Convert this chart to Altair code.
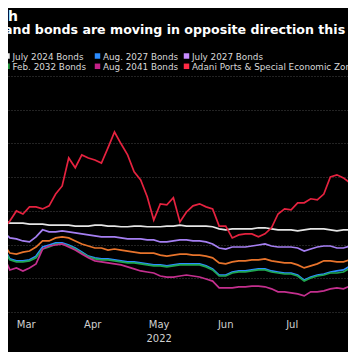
import altair as alt
import pandas as pd

# ---- data (index values) ----
dates = pd.date_range("2022-03-03", periods=56, freq="3D").strftime("%Y-%m-%dT00:00:00").tolist()

july_2024 = [98.5, 97.3, 96.4, 96.4, 96.4, 96.1, 96.1, 96.1, 95.8, 95.8,
             95.8, 95.8, 95.5, 95.5, 95.5, 95.8, 95.8, 95.5, 95.5, 95.3,
             95.3, 95.5, 95.5, 95.3, 95.3, 95.3, 95.5, 95.5, 95.8, 95.5,
             95.5, 95.5, 95.5, 95.3, 94.7, 94.4, 94.7, 94.7, 94.7, 94.7,
             95.0, 95.0, 94.7, 94.4, 94.4, 94.4, 94.1, 94.4, 94.7, 94.7,
             94.7, 94.4, 94.1, 94.4, 94.4, 94.7]
aug_2027 = [92.9, 89.3, 85.8, 85.2, 85.2, 85.5, 86.6, 89.3, 89.9, 90.5,
            90.5, 89.9, 89.0, 87.8, 86.6, 86.1, 85.8, 85.8, 85.5, 85.2,
            84.9, 84.9, 84.6, 84.3, 84.0, 84.0, 83.7, 84.0, 84.3, 84.3,
            84.3, 84.3, 83.7, 82.8, 81.0, 81.0, 81.9, 82.2, 82.2, 82.5,
            82.8, 82.8, 82.2, 81.9, 81.6, 81.6, 81.0, 79.5, 80.4, 81.0,
            81.3, 81.9, 82.2, 82.5, 83.7, 85.2]
july_2027 = [96.1, 93.8, 92.0, 91.7, 91.1, 90.8, 92.3, 94.4, 93.8, 93.8,
             94.1, 93.8, 93.5, 93.2, 92.9, 92.6, 92.3, 92.3, 92.3, 92.0,
             91.7, 91.7, 91.7, 91.4, 91.4, 90.8, 90.8, 91.1, 91.4, 91.4,
             91.1, 91.1, 90.8, 90.2, 89.0, 88.7, 89.3, 89.3, 89.3, 89.6,
             89.9, 90.2, 89.6, 89.3, 89.3, 89.3, 89.0, 88.1, 88.7, 89.3,
             89.6, 89.6, 89.0, 89.0, 89.6, 90.5]
july_2029 = [93.2, 90.2, 87.5, 87.2, 87.8, 88.1, 89.3, 91.1, 91.1, 92.0,
             92.3, 92.0, 91.1, 90.2, 89.6, 89.0, 89.0, 88.4, 88.7, 88.4,
             88.1, 87.8, 87.5, 87.5, 87.5, 86.9, 86.6, 86.9, 87.2, 87.2,
             86.9, 86.9, 86.6, 86.1, 84.6, 84.3, 84.9, 85.2, 85.2, 85.5,
             85.5, 85.8, 85.2, 84.9, 84.6, 84.6, 84.0, 83.1, 83.7, 84.3,
             85.2, 85.2, 84.9, 84.9, 85.5, 87.2]
feb_2032 = [92.6, 89.0, 85.5, 84.9, 84.9, 85.2, 86.1, 88.7, 89.3, 90.2,
            90.2, 89.6, 88.7, 87.5, 86.4, 85.8, 85.5, 85.5, 85.2, 84.9,
            84.6, 84.6, 84.3, 84.0, 83.7, 83.7, 83.4, 83.7, 84.0, 84.0,
            84.0, 84.0, 83.4, 82.5, 80.7, 80.7, 81.6, 81.9, 81.9, 82.2,
            82.5, 82.5, 81.9, 81.6, 81.3, 81.3, 80.7, 79.2, 80.1, 80.7,
            81.0, 81.6, 81.6, 81.9, 83.1, 84.6]
aug_2041 = [93.2, 86.9, 82.5, 83.1, 82.2, 83.1, 84.3, 88.7, 89.6, 89.9,
            90.2, 89.3, 88.4, 87.2, 86.1, 85.2, 84.9, 84.6, 84.3, 84.0,
            83.4, 82.8, 82.2, 81.9, 81.6, 80.7, 80.4, 80.4, 80.7, 81.0,
            80.7, 80.4, 79.8, 79.2, 77.2, 77.2, 77.2, 77.5, 77.5, 77.7,
            77.7, 77.5, 76.9, 76.0, 76.0, 75.7, 75.4, 74.8, 76.0, 76.0,
            76.3, 76.9, 77.2, 76.9, 77.7, 79.5]
adani = [96.7, 94.7, 97.0, 100.0, 99.1, 101.2, 101.2, 100.6, 101.5, 105.0,
         107.4, 115.7, 112.8, 116.6, 115.7, 115.1, 114.2, 118.7, 123.4, 119.9,
         116.6, 111.6, 109.2, 104.2, 97.3, 102.1, 101.8, 103.9, 96.7, 99.7,
         101.5, 102.1, 101.2, 100.6, 95.5, 95.5, 92.0, 92.9, 93.2, 93.2,
         92.3, 93.2, 95.0, 99.1, 100.6, 100.3, 102.4, 102.4, 103.6, 103.3,
         105.0, 110.1, 110.7, 109.8, 108.3, 108.0]

names = ["July 2024 Bonds", "Aug. 2027 Bonds", "July 2027 Bonds", "July 2029 Bonds",
         "Feb. 2032 Bonds", "Aug. 2041 Bonds", "Adani Ports & Special Economic Zone"]
colors = ["#e6e6e6", "#2b8cff", "#a57ff2", "#e8742c", "#1fa650", "#c42f8e", "#e5223f"]
legend_colors = ["#f0f0f0", "#2b8cff", "#c88cff", "#e8742c", "#1f9a3a", "#c42088", "#ff2a44"]
# legend entries visible in the cropped picture (the 4th column lies beyond its right edge)
legend_visible = ["July 2024 Bonds", "Aug. 2027 Bonds", "July 2027 Bonds",
                  "Feb. 2032 Bonds", "Aug. 2041 Bonds", "Adani Ports & Special Economic Zone"]

month_labels = ["Mar", "Apr", "May", "Jun", "Jul", "Aug"]
month_mid = ["2022-03-16T12:00:00", "2022-04-16T00:00:00", "2022-05-16T12:00:00",
             "2022-06-16T00:00:00", "2022-07-16T12:00:00", "2022-08-16T12:00:00"]
year_label = ["2022"]
year_pos = ["2022-05-16T12:00:00"]

title_text = "h"
subtitle_text = "and bonds are moving in opposite direction this year"

# ---- build table ----
draw_order = [("July 2029 Bonds", july_2029), ("July 2027 Bonds", july_2027),
              ("July 2024 Bonds", july_2024), ("Aug. 2027 Bonds", aug_2027),
              ("Feb. 2032 Bonds", feb_2032), ("Aug. 2041 Bonds", aug_2041),
              ("Adani Ports & Special Economic Zone", adani)]
rows = []
for name, vals in draw_order:
    for d, v in zip(dates, vals):
        rows.append({"date": d, "value": v, "series": name})
df = pd.DataFrame(rows)

W, H = 340, 241
GRID = "#474747"
x_scale = alt.Scale(domain=[alt.DateTime(year=2022, month=3, date=8, hours=3, minutes=36),
                            alt.DateTime(year=2022, month=8, date=11, hours=2, minutes=10)])
month_starts = [alt.DateTime(year=2022, month=m, date=1) for m in range(4, 9)]

lines = alt.Chart(df).mark_line(clip=True, strokeWidth=1.7).encode(
    x=alt.X("date:T", scale=x_scale,
            axis=alt.Axis(values=month_starts, labels=False, title=None, grid=True,
                          gridDash=[1, 2], gridColor=GRID, domainColor="#777777",
                          tickColor="#777777", tickSize=4, domainWidth=1)),
    y=alt.Y("value:Q", scale=alt.Scale(domain=[68.55, 140], nice=False, zero=False),
            axis=alt.Axis(orient="right", values=list(range(70, 150, 10)), labels=False,
                          ticks=False, domain=False, title=None, grid=True,
                          gridDash=[1, 2], gridColor=GRID)),
    color=alt.Color("series:N", scale=alt.Scale(domain=names, range=colors), legend=None),
)

months_df = pd.DataFrame({"date": month_mid, "label": month_labels})
month_text = alt.Chart(months_df).mark_text(
    font="DejaVu Sans", fontSize=10, color="#d0d0d0", baseline="middle", align="center"
).encode(x=alt.X("date:T", scale=x_scale, axis=None), y=alt.value(H + 8), text="label:N")

year_df = pd.DataFrame({"date": year_pos, "label": year_label})
year_text = alt.Chart(year_df).mark_text(
    font="DejaVu Sans", fontSize=10, color="#d0d0d0", baseline="middle", align="center"
).encode(x=alt.X("date:T", scale=x_scale, axis=None), y=alt.value(H + 21.5), text="label:N")

title_df = pd.DataFrame({"t": [title_text]})
title = alt.Chart(title_df).mark_text(
    font="DejaVu Sans", fontSize=14, fontWeight="bold", color="white",
    align="left", baseline="alphabetic"
).encode(x=alt.value(0), y=alt.value(-55.5), text="t:N")

sub_df = pd.DataFrame({"t": [subtitle_text]})
subtitle = alt.Chart(sub_df).mark_text(
    font="DejaVu Sans", fontSize=12.6, fontWeight="bold", color="white",
    align="left", baseline="alphabetic"
).encode(x=alt.value(-4), y=alt.value(-42.5), text="t:N")

# ---- legend: 2 rows of entries ----
col_x = [-1, 89.5, 178.5]
legend_layers = []
for name in legend_visible:
    i = legend_visible.index(name)
    c, r = i % 3, i // 3
    sx = col_x[c]
    sy = -20 + 10.3 * r
    col = legend_colors[names.index(name)]
    one = pd.DataFrame({"t": [name]})
    legend_layers.append(alt.Chart(one).mark_square(size=30, color=col, opacity=1).encode(
        x=alt.value(sx), y=alt.value(sy)))
    legend_layers.append(alt.Chart(one).mark_text(
        font="DejaVu Sans", fontSize=8.8, color="#d8d8d8", align="left", baseline="middle"
    ).encode(x=alt.value(sx + 5.5), y=alt.value(sy + 0.5), text="t:N"))

chart = alt.layer(lines, month_text, year_text, title, subtitle, *legend_layers).properties(
    width=W, height=H,
    padding={"left": 0, "top": 68, "right": 0, "bottom": 35},
    autosize=alt.AutoSizeParams(type="none"),
).configure(background="black").configure_view(stroke=None)

chart.save("out.html", embed_options={"renderer": "svg", "actions": False})
